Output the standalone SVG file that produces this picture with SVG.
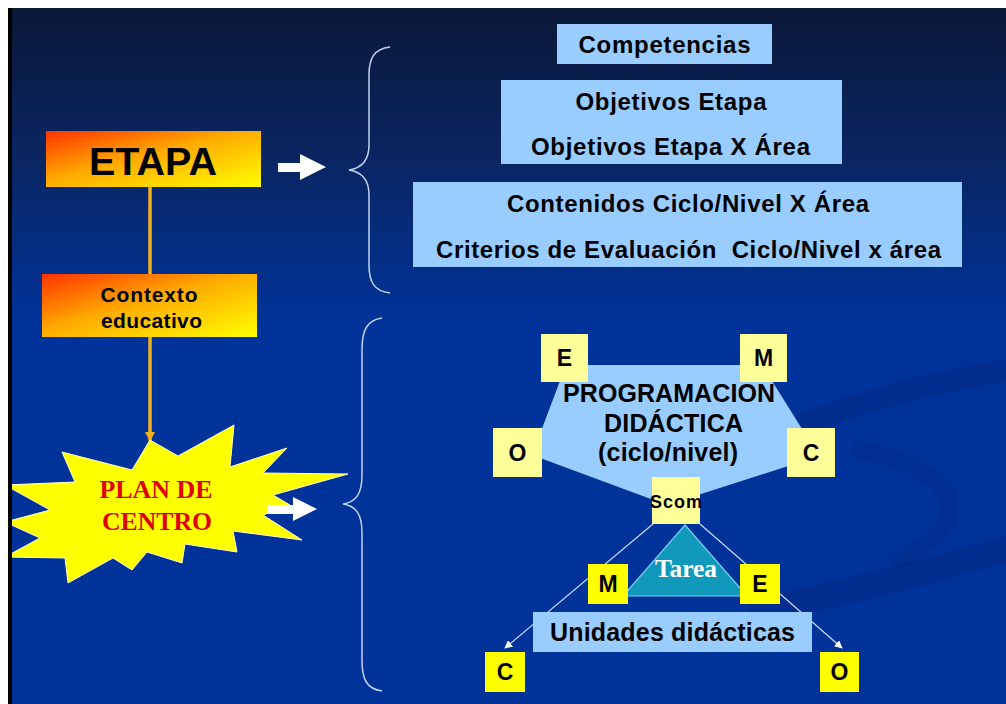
<svg xmlns="http://www.w3.org/2000/svg" width="1006" height="704" viewBox="0 0 1006 704">
<defs>
<linearGradient id="bg" x1="0" y1="0" x2="0" y2="1">
<stop offset="0" stop-color="#0a1838"/>
<stop offset="0.22" stop-color="#0a2663"/>
<stop offset="0.45" stop-color="#003399"/>
<stop offset="1" stop-color="#003399"/>
</linearGradient>
<linearGradient id="fire" x1="0" y1="0" x2="1" y2="1">
<stop offset="0" stop-color="#ff3300"/>
<stop offset="0.45" stop-color="#ffaa00"/>
<stop offset="1" stop-color="#ffff00"/>
</linearGradient>
<marker id="ah" viewBox="0 0 10 10" refX="9" refY="5" markerWidth="8" markerHeight="8" markerUnits="userSpaceOnUse" orient="auto">
<path d="M0,0 L10,5 L0,10 z" fill="#ffffff"/>
</marker>
<marker id="ahy" viewBox="0 0 10 10" refX="9" refY="5" markerWidth="10" markerHeight="10" markerUnits="userSpaceOnUse" orient="auto">
<path d="M0,0 L10,5 L0,10 z" fill="#f0b020"/>
</marker>
</defs>
<style>
.sans{font-family:"Liberation Sans",Arial,sans-serif;font-weight:bold;fill:#000;text-anchor:middle}
.serif{font-family:"Liberation Serif","Times New Roman",serif;font-weight:bold;text-anchor:middle}
.lb{fill:#99ccff}
.py{fill:#ffff99}
.by{fill:#ffff00}
.brace{fill:none;stroke:#c0d4f0;stroke-width:1.5}
.wa{fill:#ffffff}
.thin{stroke:#c8d8f8;stroke-width:1.2;fill:none}
</style>
<rect x="0" y="0" width="1006" height="704" fill="#ffffff"/>
<rect x="12" y="8" width="994" height="696" fill="url(#bg)"/>
<g id="swirls" fill="none" stroke-linecap="round">
<path d="M 790 430 C 860 400, 950 378, 1010 370" stroke="#001a66" stroke-width="22" opacity="0.2"/>
<path d="M 760 610 C 860 590, 950 565, 1010 548" stroke="#001a66" stroke-width="26" opacity="0.2"/>
<path d="M 860 450 C 960 470, 980 520, 900 560" stroke="#001a66" stroke-width="18" opacity="0.15"/>
</g>
<rect x="8" y="8" width="4" height="696" fill="#000000"/>

<g id="connectors">
<line x1="150" y1="187" x2="150" y2="274" stroke="#f0b020" stroke-width="3.5"/>
<line x1="150" y1="337" x2="150" y2="441" stroke="#f0b020" stroke-width="3.5" marker-end="url(#ahy)"/>
<path id="brace1" class="brace" d="M 390 47 C 374 49, 369 58, 369 75 L 369 145 C 369 160, 362 168, 349 170 C 362 172, 369 180, 369 195 L 369 265 C 369 282, 374 291, 390 293"/>
<path id="brace2" class="brace" d="M 382 318 C 367 320, 362 330, 362 350 L 362 475 C 362 494, 356 502, 343 504 C 356 506, 362 514, 362 533 L 362 660 C 362 680, 367 689, 382 691"/>
<path id="arrow1" class="wa" d="M 278 163 L 300 163 L 300 154 L 326 167 L 300 180 L 300 172 L 278 172 z"/>
<line class="thin" x1="653" y1="524" x2="505" y2="648" marker-end="url(#ah)"/>
<line class="thin" x1="700" y1="524" x2="842" y2="648" marker-end="url(#ah)"/>
</g>

<g id="competencias">
<rect class="lb" x="557" y="24" width="215" height="40"/>
<text class="sans" x="664.5" y="53" font-size="24" textLength="172">Competencias</text>
</g>
<g id="objetivos">
<rect class="lb" x="501" y="80" width="341" height="84"/>
<text class="sans" x="671" y="110" font-size="24" textLength="191">Objetivos Etapa</text>
<text class="sans" x="670.5" y="155" font-size="24" textLength="279">Objetivos Etapa X Área</text>
</g>
<g id="contenidos">
<rect class="lb" x="413" y="182" width="549" height="85"/>
<text class="sans" x="688" y="212" font-size="24" textLength="362">Contenidos Ciclo/Nivel X Área</text>
<text class="sans" x="688.5" y="258" font-size="24" textLength="505" xml:space="preserve">Criterios de Evaluación  Ciclo/Nivel x área</text>
</g>

<g id="etapa">
<rect x="46" y="131" width="215" height="56" fill="url(#fire)"/>
<text class="sans" x="153" y="175" font-size="39" textLength="128" lengthAdjust="spacingAndGlyphs">ETAPA</text>
</g>
<g id="contexto">
<rect x="42" y="274" width="215" height="63" fill="url(#fire)"/>
<text class="sans" x="149" y="302" font-size="21" textLength="97">Contexto</text>
<text class="sans" x="151.5" y="328" font-size="21" textLength="101">educativo</text>
</g>

<g id="plan-de-centro">
<polygon fill="#ffff00" stroke="#ffffcc" stroke-width="1" points="150,440 178,456 234,425 230,467 287,448 263,473 348,474 273,495 290,505 263,515 302,540 233,531 237,552 185,544 182,563 147,552 132,570 113,558 68,583 65,558 5,557 40,538 5,522 50,510 5,485 75,482 62,452 132,470"/>
<path id="arrow2" class="wa" d="M 268 505 L 293 505 L 293 497 L 317 509 L 293 521 L 293 514 L 268 514 z"/>
<text class="serif" x="156" y="498" font-size="25" fill="#e00000" textLength="113" lengthAdjust="spacingAndGlyphs">PLAN DE</text>
<text class="serif" x="157" y="530" font-size="25" fill="#e00000" textLength="110" lengthAdjust="spacingAndGlyphs">CENTRO</text>
</g>
<rect x="8" y="420" width="4" height="180" fill="#000000"/>

<g id="programacion">
<polygon class="lb" points="566,365 762,365 819,456 667,505 532,455"/>
<text class="sans" x="669" y="402" font-size="25" textLength="212">PROGRAMACION</text>
<text class="sans" x="673.5" y="432" font-size="25" textLength="139">DIDÁCTICA</text>
<text class="sans" x="668" y="461" font-size="25" textLength="140">(ciclo/nivel)</text>
</g>
<g id="box-E-top"><rect class="py" x="541" y="334" width="47" height="48"/><text class="sans" x="564.5" y="366" font-size="23">E</text></g>
<g id="box-M-top"><rect class="py" x="740" y="334" width="47" height="48"/><text class="sans" x="763.5" y="366" font-size="23">M</text></g>
<g id="box-O-top"><rect class="py" x="493" y="428" width="49" height="49"/><text class="sans" x="517.5" y="461" font-size="23">O</text></g>
<g id="box-C-top"><rect class="py" x="787" y="428" width="48" height="49"/><text class="sans" x="811" y="461" font-size="23">C</text></g>
<g id="scom"><rect class="py" x="652" y="477" width="48" height="47"/><text class="sans" x="676" y="508" font-size="18" textLength="52">Scom</text></g>

<g id="tarea">
<polygon points="685,525 623,596 747,596" fill="#1199bb" stroke="#77ccee" stroke-width="1.2"/>
<text class="serif" x="686" y="577" font-size="25" fill="#ffffff" textLength="62" lengthAdjust="spacingAndGlyphs">Tarea</text>
</g>
<g id="box-M-low"><rect class="by" x="588" y="564" width="40" height="40"/><text class="sans" x="608" y="592" font-size="23">M</text></g>
<g id="box-E-low"><rect class="by" x="740" y="564" width="40" height="40"/><text class="sans" x="760" y="592" font-size="23">E</text></g>
<g id="unidades">
<rect class="lb" x="533" y="612" width="279" height="40"/>
<text class="sans" x="672.5" y="641" font-size="25" textLength="245">Unidades didácticas</text>
</g>
<g id="box-C-low"><rect class="by" x="485" y="652" width="40" height="40"/><text class="sans" x="505" y="680" font-size="23">C</text></g>
<g id="box-O-low"><rect class="by" x="820" y="652" width="39" height="40"/><text class="sans" x="839.5" y="680" font-size="23">O</text></g>
</svg>
